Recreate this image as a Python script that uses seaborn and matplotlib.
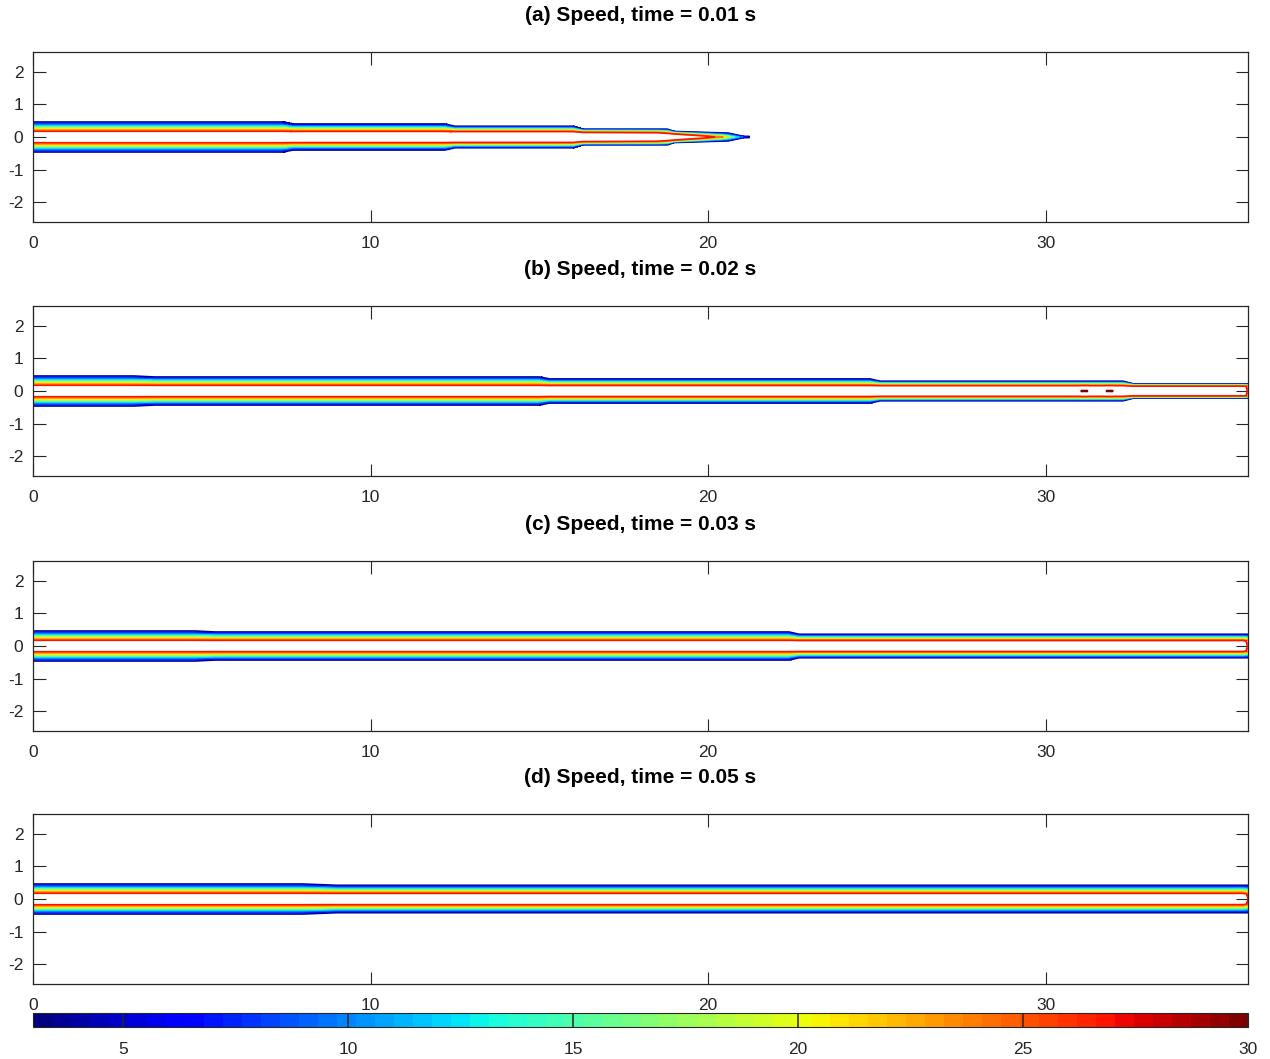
import numpy as np
import matplotlib
matplotlib.use("Agg")
import matplotlib.pyplot as plt
import matplotlib.colors as mcolors
import matplotlib.cm as cm
import seaborn as sns

sns.set_theme(style="ticks")
plt.rcParams["font.family"] = ["Liberation Sans", "DejaVu Sans"]
plt.rcParams["axes.unicode_minus"] = False

# ---------------------------------------------------------------
# data
# ---------------------------------------------------------------
titles = ["(a) Speed, time = 0.01 s", "(b) Speed, time = 0.02 s",
          "(c) Speed, time = 0.03 s", "(d) Speed, time = 0.05 s"]
levels = [3, 6, 9, 12, 15, 18, 21, 24, 27, 30]
x_ticks = [0, 10, 20, 30]
y_ticks = [-2, -1, 0, 1, 2]
cbar_ticks = [5, 10, 15, 20, 25, 30]

# outer jet edge (speed = 3 contour): x position and half-width
edge_x_a = [0, 7.4, 7.7, 12.2, 12.5, 16.0, 16.3, 18.8, 19.0, 20.6, 21.15]
edge_h_a = [0.46, 0.46, 0.40, 0.40, 0.33, 0.33, 0.24, 0.24, 0.17, 0.12, 0.0]
edge_x_b = [0, 3.0, 3.6, 15.0, 15.3, 24.8, 25.1, 32.3, 32.6, 36]
edge_h_b = [0.46, 0.46, 0.43, 0.43, 0.37, 0.37, 0.30, 0.30, 0.22, 0.22]
edge_x_c = [0, 4.8, 5.4, 22.4, 22.7, 36]
edge_h_c = [0.46, 0.46, 0.43, 0.43, 0.36, 0.36]
edge_x_d = [0, 8.0, 9.0, 36]
edge_h_d = [0.46, 0.46, 0.42, 0.42]

# potential core (white region) half-width
core_x_a = [0, 16.0, 16.3, 18.5, 20.2]
core_h_a = [0.15, 0.15, 0.13, 0.12, 0.0]
core_x_b = [0, 32.3, 32.6, 36]
core_h_b = [0.15, 0.15, 0.14, 0.14]
core_x_c = [0, 36]
core_h_c = [0.15, 0.15]
core_x_d = [0, 36]
core_h_d = [0.15, 0.15]

# core speed along the jet axis
peak_x_a = [0, 19.9, 20.4, 21.15, 21.3]
peak_v_a = [29, 29, 25, 6, 0]
peak_x_b = [0, 31.0, 31.06, 31.24, 31.3, 31.75, 31.81, 31.99, 32.05, 35.85, 36]
peak_v_b = [29, 29, 29.55, 29.55, 29, 29, 29.55, 29.55, 29, 29, 26]
peak_x_c = [0, 35.85, 36]
peak_v_c = [29, 29, 26]
peak_x_d = [0, 35.85, 36]
peak_v_d = [29, 29, 26.5]

panels = [
    (edge_x_a, edge_h_a, core_x_a, core_h_a, peak_x_a, peak_v_a),
    (edge_x_b, edge_h_b, core_x_b, core_h_b, peak_x_b, peak_v_b),
    (edge_x_c, edge_h_c, core_x_c, core_h_c, peak_x_c, peak_v_c),
    (edge_x_d, edge_h_d, core_x_d, core_h_d, peak_x_d, peak_v_d),
]

x = np.linspace(0, 36, 3601)
y = np.linspace(-0.8, 0.8, 801)
X, Y = np.meshgrid(x, y)


def speed_field(ex, eh, cx, ch, px, pv):
    outer = np.interp(X, ex, eh)
    core = np.interp(X, cx, ch)
    v = np.interp(X, px, pv)
    t = np.abs(Y)
    s = np.clip((t - core) / np.maximum(outer - core, 0.02), 0, 1.1)
    shear = np.minimum(3 + (v - 3) * (1 - s), v)
    plateau = v + 0.5 * (1 - t / np.maximum(core, 1e-3))
    return np.where(t < core, plateau, shear)


jet = matplotlib.colormaps["jet"]
jet64 = jet.resampled(64)
norm = mcolors.Normalize(vmin=3, vmax=30)

W, H = 1270, 1059
fig = plt.figure(figsize=(W / 100, H / 100), dpi=100)
fig.patch.set_facecolor("white")

tops = [52, 306, 561, 814]
left, right = 33, 1248
for i, (title, p) in enumerate(zip(titles, panels)):
    top = tops[i]
    ax = fig.add_axes([left / W, 1 - (top + 170) / H, (right - left) / W, 170 / H])
    Z = speed_field(*p)
    ax.contour(x, y, Z, levels=levels, cmap=jet, norm=norm, linewidths=1.15)
    ax.set_xlim(0, 36)
    ax.set_ylim(-2.6, 2.6)
    ax.set_xticks(x_ticks)
    ax.set_yticks(y_ticks)
    ax.set_facecolor("white")
    for sp in ax.spines.values():
        sp.set_color("#262626")
        sp.set_linewidth(0.9)
    ax.tick_params(axis="both", direction="in", length=9, width=0.8,
                   top=True, right=True, labelsize=12.5, colors="#262626")
    ax.tick_params(axis="x", pad=10)
    ax.tick_params(axis="y", pad=7)
    ax.set_title(title, fontsize=15, fontweight="bold", pad=22, color="black")

cax = fig.add_axes([left / W, 1 - 1027 / H, (right - left) / W, 14 / H])
sm = cm.ScalarMappable(norm=norm, cmap=jet64)
cb = fig.colorbar(sm, cax=cax, orientation="horizontal", ticks=cbar_ticks)
cb.outline.set_linewidth(0.8)
cb.outline.set_edgecolor("#262626")
cax.tick_params(direction="in", length=0, labelsize=12.5, pad=11,
                labelcolor="#262626")
for t in cbar_ticks:
    cax.axvline(t, color="#262626", lw=1.1)

fig.savefig("out.png", dpi=100)
